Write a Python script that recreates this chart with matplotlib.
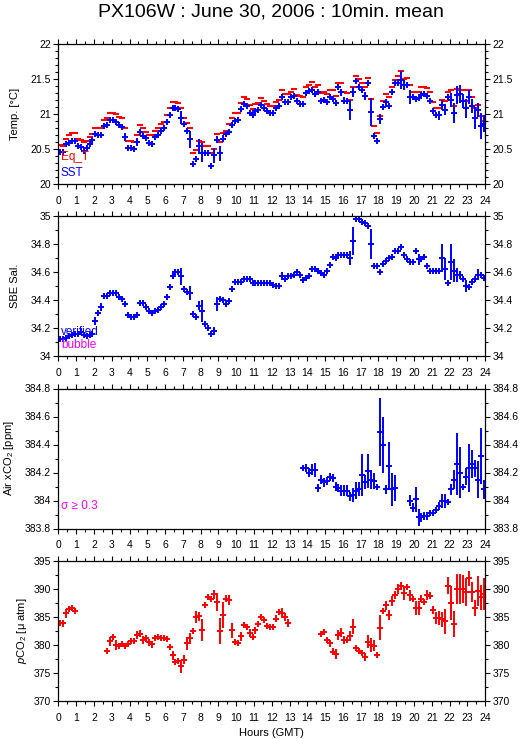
import numpy as np
import matplotlib
matplotlib.use('Agg')
import matplotlib.pyplot as plt
from matplotlib.ticker import MultipleLocator

plt.rcParams['font.family'] = ['Liberation Sans', 'DejaVu Sans']
plt.rcParams['mathtext.fontset'] = 'custom'
plt.rcParams['mathtext.rm'] = 'Liberation Sans'
plt.rcParams['mathtext.it'] = 'Liberation Sans:italic'

nan = np.nan

# 10 minute bins, values per hour (6 per row)
sst = [20.46, 20.46, 20.57, 20.59, 20.62, 20.61,
       20.54, 20.53, 20.47, 20.51, 20.57, 20.63,
       20.71, 20.70, 20.70, 20.83, 20.84, 20.92,
       20.91, 20.89, 20.84, 20.81, 20.67, 20.52,
       20.52, 20.50, 20.60, 20.74, 20.69, 20.66,
       20.58, 20.57, 20.67, 20.70, 20.76, 20.80,
       20.89, 20.99, 21.08, 21.08, 21.07, 20.95,
       20.86, 20.76, 20.64, 20.28, 20.36, 20.54,
       20.45, 20.45, 20.44, 20.26, 20.41, 20.63,
       20.44, 20.65, 20.71, 20.75, 20.85, 20.90,
       20.92, 21.07, 21.15, 21.12, 21.02, 20.98,
       21.05, 21.06, 21.13, 21.08, 21.05, 21.02,
       21.01, 21.08, 21.11, 21.25, 21.17, 21.17,
       21.24, 21.26, 21.18, 21.14, 21.14, 21.30,
       21.33, 21.35, 21.28, 21.31, 21.18, 21.20,
       21.17, 21.25, 21.21, 21.16, 21.38, 21.31,
       21.19, 21.19, 21.06, 21.31, 21.47, 21.39,
       21.34, 21.26, 21.44, 21.03, 20.69, 20.62,
       20.93, 21.10, 21.17, 21.12, 21.31, 21.44,
       21.45, 21.49, 21.41, 21.42, 21.25, 21.25,
       21.21, 21.23, 21.27, 21.29, 21.26, 21.18,
       21.05, 20.98, 20.98, 21.13, 21.06, 21.25,
       21.20, 21.01, 21.27, 21.28, 21.19, 21.08,
       21.25, 21.12, 20.94, 21.06, 20.83, 20.86]
sst_err = [.03, .02, .02, .02, .02, .02,
           .02, .02, .02, .03, .02, .02,
           .02, .02, .02, .02, .02, .02,
           .02, .02, .02, .02, .06, .02,
           .02, .02, .06, .02, .03, .02,
           .02, .02, .02, .02, .02, .03,
           .02, .04, .02, .02, .03, .09,
           .03, .03, .12, .02, .04, .11,
           .13, .02, .02, .02, .11, .05,
           .11, .05, .03, .02, .03, .02,
           .03, .03, .02, .02, .03, .02,
           .03, .02, .03, .02, .02, .02,
           .02, .02, .03, .02, .02, .02,
           .03, .03, .04, .03, .02, .04,
           .03, .03, .03, .02, .02, .02,
           .02, .02, .02, .04, .04, .05,
           .05, .04, .14, .07, .02, .03,
           .04, .06, .04, .20, .03, .02,
           .07, .03, .05, .04, .03, .02,
           .05, .13, .07, .04, .10, .03,
           .04, .03, .04, .04, .03, .02,
           .04, .04, .06, .07, .08, .04,
           .10, .14, .13, .13, .10, .14,
           .10, .10, .16, .10, .19, .12]
eq_t = [20.56, 20.55, 20.65, 20.70, 20.73, 20.73,
        20.64, 20.63, 20.60, 20.61, 20.67, 20.72,
        20.80, 20.80, 20.80, 20.92, 20.94, 21.02,
        21.02, 21.00, 20.96, 20.94, 20.80, 20.62,
        20.62, 20.60, 20.70, 20.84, 20.80, 20.75,
        20.70, 20.70, 20.76, 20.80, 20.86, 20.89,
        20.98, 21.08, 21.17, 21.17, 21.16, 21.08,
        20.95, 20.87, 20.80, 20.45, 20.48, 20.62,
        20.60, 20.55, 20.55, 20.44, 20.50, 20.72,
        20.60, 20.73, 20.76, 20.86, 20.94, 21.02,
        21.02, 21.16, 21.25, 21.22, 21.13, 21.07,
        21.15, 21.16, 21.23, 21.18, 21.15, 21.11,
        21.11, 21.17, 21.20, 21.34, 21.28, 21.28,
        21.32, 21.36, 21.27, 21.26, 21.25, 21.38,
        21.42, 21.46, 21.38, 21.42, 21.30, 21.31,
        21.28, 21.34, 21.34, 21.26, 21.45, 21.44,
        21.31, 21.30, 21.20, 21.38, 21.55, 21.50,
        21.44, 21.38, 21.51, 21.21, 20.83, 20.73,
        20.97, 21.19, 21.28, 21.24, 21.39, 21.49,
        21.54, 21.61, 21.50, 21.51, 21.41, 21.32,
        21.31, 21.31, 21.38, 21.39, 21.37, 21.32,
        21.17, 21.09, 21.08, 21.20, 21.18, 21.32,
        21.34, 21.12, 21.36, 21.35, 21.35, 21.18,
        21.35, 21.25, 21.09, 21.13, 20.97, 20.90]

sal = [34.12, 34.12, 34.13, 34.14, 34.15, 34.16,
       34.16, 34.17, 34.15, 34.14, 34.15, 34.16,
       34.25, 34.31, 34.35, 34.43, 34.43, 34.45,
       34.45, 34.45, 34.42, 34.41, 34.37, 34.29,
       34.28, 34.28, 34.29, 34.38, 34.38, 34.35,
       34.32, 34.31, 34.32, 34.33, 34.35, 34.37,
       34.42, 34.49, 34.57, 34.60, 34.60, 34.57,
       34.48, 34.46, 34.45, 34.30, 34.28, 34.36,
       34.32, 34.23, 34.20, 34.16, 34.18, 34.37,
       34.41, 34.40, 34.37, 34.39, 34.48, 34.53,
       34.53, 34.53, 34.55, 34.55, 34.55, 34.52,
       34.52, 34.52, 34.52, 34.52, 34.52, 34.52,
       34.51, 34.50, 34.50, 34.57, 34.55, 34.57,
       34.57, 34.58, 34.60, 34.58, 34.54, 34.56,
       34.57, 34.62, 34.62, 34.61, 34.59, 34.58,
       34.61, 34.65, 34.71, 34.70, 34.72, 34.72,
       34.72, 34.72, 34.70, 34.82, 34.98, 34.98,
       34.96, 34.95, 34.93, 34.80, 34.64, 34.64,
       34.60, 34.66, 34.68, 34.70, 34.71, 34.75,
       34.75, 34.78, 34.72, 34.69, 34.67, 34.67,
       34.75, 34.69, 34.69, 34.71, 34.64, 34.61,
       34.61, 34.61, 34.61, 34.70, 34.62, 34.52,
       34.67, 34.61, 34.58, 34.58, 34.55, 34.50,
       34.49, 34.53, 34.55, 34.58, 34.58, 34.56]
sal_err = [.01, .01, .01, .01, .01, .02,
           .02, .01, .01, .01, .01, .01,
           .03, .01, .03, .01, .01, .01,
           .01, .01, .01, .01, .02, .01,
           .01, .01, .01, .02, .01, .01,
           .01, .01, .01, .01, .01, .01,
           .01, .02, .02, .01, .01, .06,
           .01, .01, .05, .01, .01, .03,
           .08, .01, .01, .01, .03, .05,
           .01, .01, .01, .02, .02, .01,
           .005, .005, .005, .005, .005, .005,
           .005, .005, .005, .005, .005, .005,
           .005, .005, .005, .03, .01, .01,
           .01, .01, .01, .01, .01, .01,
           .01, .01, .01, .01, .01, .01,
           .01, .01, .02, .01, .01, .01,
           .01, .01, .05, .10, .005, .005,
           .005, .005, .01, .11, .01, .01,
           .01, .01, .01, .02, .01, .01,
           .01, .01, .02, .01, .02, .01,
           .01, .04, .02, .01, .01, .01,
           .01, .01, .01, .10, .08, .01,
           .13, .08, .05, .03, .02, .04,
           .01, .02, .02, .04, .02, .02]

xco2 = [nan] * 78 + [
    nan, nan, nan, nan, 384.23, 384.23,
    384.20, 384.22, 384.22, 384.09, 384.15, 384.13,
    384.14, 384.17, 384.16, 384.10, 384.09, 384.07,
    384.07, 384.07, 384.03, 384.04, 384.07, 384.08,
    384.18, 384.13, 384.21, 384.15, 384.14, 384.10,
    384.49, 384.40, 384.08, 384.25, 384.08, 384.09,
    nan, nan, nan, nan, 384.00, 383.95,
    384.01, 383.88, 383.88, 383.89, 383.89, 383.91,
    383.91, 383.93, 383.96, 384.00, 384.00, 383.99,
    384.08, 384.15, 384.26, 384.20, 384.10, 384.17,
    384.23, 384.26, 384.23, 384.15, 384.32, 384.08]
xco2_err = [nan] * 78 + [
    nan, nan, nan, nan, .02, .03,
    .03, .04, .05, .03, .03, .03,
    .03, .03, .03, .03, .03, .04,
    .04, .04, .03, .05, .06, .05,
    .15, .05, .12, .07, .06, .02,
    .24, .20, .03, .17, .12, .09,
    nan, nan, nan, nan, .04, .03,
    .09, .06, .03, .03, .03, .02,
    .02, .02, .03, .05, .05, .02,
    .04, .07, .22, .18, .02, .06,
    .17, .10, .06, .13, .20, .07]

pco2 = [384.0, 383.9, 385.7, 386.5, 386.6, 386.0,
        nan, nan, nan, nan, nan, nan,
        nan, nan, nan, nan, 378.9, 380.7,
        381.4, 380.0, 379.8, 380.2, 379.9, 380.1,
        380.7, 380.7, 381.8, 382.0, 380.9, 381.2,
        380.5, 380.1, 381.2, 381.4, 381.2, 381.2,
        381.0, 379.7, 378.2, 377.0, 377.1, 376.2,
        377.4, 380.3, 381.2, 382.5, 385.0, 385.1,
        382.7, 387.1, 388.6, 388.3, 389.1, 387.7,
        382.5, 385.3, 388.3, 388.0, 382.6, 380.6,
        380.4, 381.6, 383.5, 383.2, 382.2, 381.5,
        382.6, 383.7, 385.0, 384.5, 383.4, 383.3,
        383.3, 384.7, 385.9, 385.7, 385.0, 384.0,
        nan, nan, nan, nan, nan, nan,
        nan, nan, nan, nan, 382.0, 382.4,
        380.9, 380.3, 378.8, 378.4, 381.8, 382.2,
        380.9, 380.9, 381.6, 383.3, 379.4, 379.0,
        378.6, 377.9, 380.6, 380.0, 379.9, 378.2,
        383.1, 386.0, 387.1, 385.3, 387.9, 388.9,
        390.0, 390.6, 389.3, 390.3, 388.9, 388.2,
        386.6, 386.6, 388.3, 387.6, 388.9, 388.8,
        386.2, 384.8, 384.8, 384.6, 384.2, 390.6,
        387.5, 383.8, 390.0, 390.0, 390.0, 389.4,
        391.9, 389.5, 386.6, 389.7, 388.5, 389.1]
pco2_err = [.5, .6, .8, .5, .5, .5,
            nan, nan, nan, nan, nan, nan,
            nan, nan, nan, nan, .3, .8,
            .5, .9, .5, .4, .5, .5,
            .5, .5, .7, .6, .7, .6,
            .6, .6, .4, .4, .5, .5,
            .5, .3, .8, .5, .5, 1.2,
            .8, 1.2, 1.0, .6, 1.0, .8,
            1.9, .5, .5, .3, .8, 1.6,
            2.3, 2.3, .6, .9, 1.4, .3,
            .4, .8, .4, .3, .7, .4,
            .6, .3, .4, .3, .3, .3,
            .3, .6, .4, .9, .7, .7,
            nan, nan, nan, nan, nan, nan,
            nan, nan, nan, nan, .5, .4,
            .6, .6, .6, .9, .9, .8,
            .7, .6, .9, 1.3, .4, .3,
            .4, .7, 1.2, 1.2, 1.0, .4,
            2.2, .5, .8, .9, .9, .7,
            .9, .7, 1.3, .5, 1.0, .5,
            1.3, 1.3, .7, .5, .9, .6,
            .7, 1.1, 1.2, 1.3, 2.3, 1.5,
            3.0, 2.3, 2.7, 2.6, 2.5, 2.5,
            1.3, 1.8, 1.4, 2.7, 2.2, 2.8]

hours = (np.arange(144) + 0.5) / 6.0

BLUE = '#0000ff'
RED = '#ff0000'
MAG = '#ff00ff'

fig = plt.figure(figsize=(5.29, 7.39), dpi=100)
W = 529.0
H = 739.0
left, width = 58.4 / W, 426.8 / W
tops = [44, 216, 388.5, 561]
ph = 140


def make_axes(top, ylim, major, minor, labelx):
    ax = fig.add_axes([left, 1 - (top + ph) / H, width, ph / H])
    ax.set_xlim(0, 24)
    ax.set_ylim(*ylim)
    ax.xaxis.set_major_locator(MultipleLocator(1))
    ax.xaxis.set_minor_locator(MultipleLocator(0.5))
    ax.yaxis.set_major_locator(MultipleLocator(major))
    ax.yaxis.set_minor_locator(MultipleLocator(minor))
    ax.tick_params(which='both', direction='out', top=True, right=True,
                   labelright=True, labelsize=7.5, width=0.8)
    ax.tick_params(which='major', length=3.5)
    ax.tick_params(which='minor', length=2)
    ax.tick_params(axis='y', which='major', pad=2)
    ax.tick_params(axis='x', which='major', pad=5)
    for s in ax.spines.values():
        s.set_linewidth(0.9)
    ax.yaxis.set_label_coords(labelx, 0.5)
    return ax


# Temperature
ax1 = make_axes(tops[0], (20, 22), 0.5, 0.1, -0.091)
ax1.plot(hours, eq_t, '_', color=RED, ms=5, mew=1.5)
ax1.errorbar(hours, sst, yerr=sst_err, fmt='+', color=BLUE, ms=5, mew=1.4,
             elinewidth=1.4, capsize=0)
ax1.set_yticks([20, 20.5, 21, 21.5, 22], ['20', '20.5', '21', '21.5', '22'])
ax1.set_ylabel('Temp. [°C]', fontsize=8)
ax1.text(0.006, 0.19, 'Eq_T', color=RED, fontsize=8.5, transform=ax1.transAxes, va='center')
ax1.text(0.006, 0.08, 'SST', color=BLUE, fontsize=8.5, transform=ax1.transAxes, va='center')

# Salinity
ax2 = make_axes(tops[1], (34, 35), 0.2, 0.1, -0.091)
ax2.errorbar(hours, sal, yerr=sal_err, fmt='+', color=BLUE, ms=5, mew=1.4,
             elinewidth=1.4, capsize=0)
ax2.set_yticks([34, 34.2, 34.4, 34.6, 34.8, 35], ['34', '34.2', '34.4', '34.6', '34.8', '35'])
ax2.set_ylabel('SBE Sal.', fontsize=8)
ax2.text(0.006, 0.17, 'verified', color=BLUE, fontsize=8.5, transform=ax2.transAxes, va='center')
ax2.text(0.006, 0.075, 'bubble', color=MAG, fontsize=8.5, transform=ax2.transAxes, va='center')

# Air xCO2
ax3 = make_axes(tops[2], (383.8, 384.8), 0.2, 0.1, -0.099)
ax3.errorbar(hours, xco2, yerr=xco2_err, fmt='+', color=BLUE, ms=5, mew=1.4,
             elinewidth=1.4, capsize=0)
ax3.set_yticks([383.8, 384, 384.2, 384.4, 384.6, 384.8],
               ['383.8', '384', '384.2', '384.4', '384.6', '384.8'])
ax3.set_ylabel('Air xCO$_2$ [ppm]', fontsize=8)
ax3.text(0.006, 0.16, 'σ ≥ 0.3', color=MAG, fontsize=8.5, transform=ax3.transAxes, va='center')

# pCO2
ax4 = make_axes(tops[3], (370, 395), 5, 2.5, -0.068)
ax4.errorbar(hours, pco2, yerr=pco2_err, fmt='+', color=RED, ms=5, mew=1.4,
             elinewidth=1.4, capsize=0)
ax4.set_ylabel('$\\it{p}$CO$_2$ [μ atm]', fontsize=8)
ax4.set_xlabel('Hours (GMT)', fontsize=8, labelpad=4)

fig.text(0.512, 0.984, 'PX106W : June 30, 2006 : 10min. mean', ha='center', va='center',
         fontsize=14)

fig.savefig('out.png', dpi=100)
